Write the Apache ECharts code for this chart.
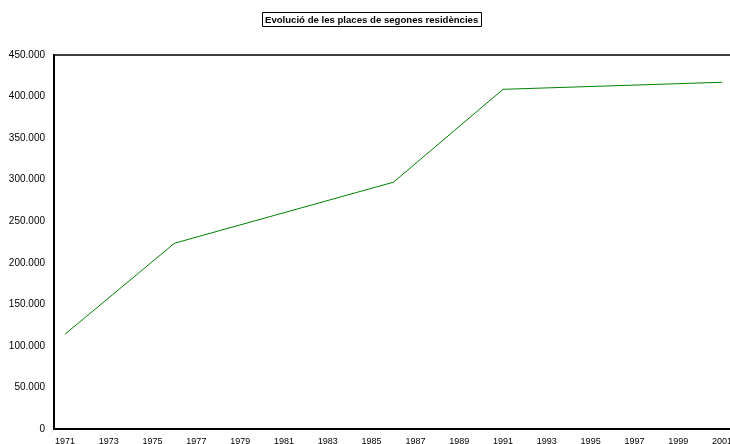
<!doctype html>
<html>
<head>
<meta charset="utf-8">
<title>Evolució de les places de segones residències</title>
<style>
  html, body { margin: 0; padding: 0; background: #fff; }
  #chart { width: 730px; height: 444px; }
</style>
</head>
<body>
<div id="chart"></div>
<script src="https://cdn.jsdelivr.net/npm/echarts@6/dist/echarts.min.js"></script>
<script>
// anys (eix de categories) i places; null = any sense dada
var anys = [];
for (var a = 1971; a <= 2001; a++) anys.push(String(a));

var anysDada = ['1971', '1976', '1986', '1991', '2001'];
var placesDada = [114000, 223500, 297000, 408700, 417200];

var places = anys.map(function (y) {
  var i = anysDada.indexOf(y);
  return i >= 0 ? placesDada[i] : null;
});

function milers(v) {
  return String(v).replace(/\B(?=(\d{3})+(?!\d))/g, '.');
}

var chart = echarts.init(document.getElementById('chart'));
var option = {
  animation: false,
  title: {
    text: 'Evolució de les places de segones residències',
    left: 262,
    top: 12,
    padding: [3, 3, 2, 3],
    borderColor: '#000',
    borderWidth: 1,
    textStyle: {
      fontFamily: 'Liberation Sans, Arial, sans-serif',
      fontSize: 9.6,
      fontWeight: 'bold',
      color: '#000'
    }
  },
  grid: {
    left: 54,
    width: 679,
    top: 55,
    bottom: 15,
    outerBoundsMode: 'none',
    containLabel: false,
    show: true,
    borderColor: '#000',
    borderWidth: 1.5
  },
  xAxis: {
    type: 'category',
    data: anys,
    boundaryGap: true,
    axisLine: { lineStyle: { color: '#000', width: 2 } },
    axisTick: { show: false },
    axisLabel: {
      interval: 1,
      margin: 8,
      fontFamily: 'Liberation Sans, Arial, sans-serif',
      fontSize: 9,
      color: '#000'
    }
  },
  yAxis: {
    type: 'value',
    min: 0,
    max: 450000,
    interval: 50000,
    splitLine: { show: false },
    axisLine: { show: true, lineStyle: { color: '#000', width: 2 } },
    axisTick: { show: false },
    axisLabel: {
      margin: 9,
      fontFamily: 'Liberation Sans, Arial, sans-serif',
      fontSize: 10,
      color: '#000',
      formatter: milers
    }
  },
  series: [{
    name: 'Places',
    type: 'line',
    data: places,
    connectNulls: true,
    showSymbol: false,
    symbol: 'none',
    lineStyle: { color: '#008000', width: 1 },
    itemStyle: { color: '#008000' }
  }]
};
chart.setOption(option);
</script>
</body>
</html>
